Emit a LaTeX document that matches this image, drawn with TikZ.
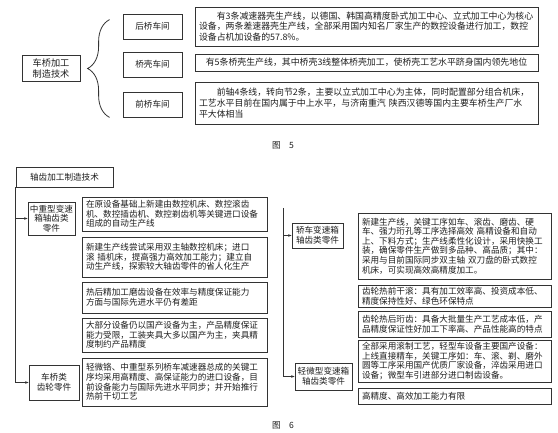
\documentclass[tikz,border=0pt]{standalone}
\usepackage{fontspec}
\setmainfont{Noto Sans CJK SC}
\usetikzlibrary{arrows.meta,positioning,calc,decorations.pathreplacing}
\definecolor{scanline}{HTML}{333333}
\definecolor{scantext}{HTML}{1E1E1E}

\begin{document}
\begin{tikzpicture}[
  x=1pt,y=-1pt,
  font=\fontsize{8.6}{9.6}\selectfont,
  text=scantext,
  box/.style={draw=scanline,line width=0.8pt,align=center,inner sep=2pt},
  wide/.style={box,align=left,inner xsep=4pt,inner ysep=1pt,text width=335pt,font=\fontsize{8.9}{10.6}\selectfont},
  notel/.style={box,align=left,inner xsep=4pt,inner ysep=1pt,text width=177pt},
  noter/.style={box,align=left,inner xsep=4pt,inner ysep=1pt,text width=185pt},
  feed/.style={draw=scanline,line width=0.7pt,-{Stealth[length=3.5pt,width=2.6pt]}}
]
\useasboundingbox (0,0) rectangle (558,433);

% figure 5
\node[box,minimum width=58pt,minimum height=26pt,font=\fontsize{9.2}{11}\selectfont] (root) at (51,68) {车桥加工\\制造技术};
\node[box,minimum width=59pt,minimum height=25pt] (hou) at (152.5,26.5) {后桥车间};
\node[box,minimum width=59pt,minimum height=25pt] (qk) at (152.5,64.5) {桥壳车间};
\node[box,minimum width=59pt,minimum height=25pt] (qian) at (152.5,104.5) {前桥车间};
\node[wide,minimum height=39pt] (houtxt) at (366.5,26.5) {\hspace*{2em}有3条减速器壳生产线，以德国、韩国高精度卧式加工中心、立式加工中心为核心\\设备，两条差速器壳生产线，全部采用国内知名厂家生产的数控设备进行加工，数控\\设备占机加设备的57.8\%。};
\node[wide,align=center,minimum height=17pt] (qktxt) at (366.5,62.5) {有5条桥壳生产线，其中桥壳3线整体桥壳加工，使桥壳工艺水平跻身国内领先地位};
\node[wide,minimum height=42pt] (qiantxt) at (366.5,103) {\hspace*{2em}前轴4条线，转向节2条，主要以立式加工中心为主体，同时配置部分组合机床，\\工艺水平目前在国内属于中上水平，与济南重汽\ 陕西汉德等国内主要车桥生产厂水\\平大体相当};
\draw[scanline,line width=0.8pt,decorate,decoration={brace,amplitude=22pt}]
  ($(qian.south west)+(-13,0)$) -- ($(hou.north west)+(-13,6)$);
\node (cap5) at (283,145) {图\quad 5};

% figure 6
\node[box,minimum width=97pt,minimum height=20pt] (title) at (64.5,177) {轴齿加工制造技术};
\node[box,minimum width=47pt,minimum height=33pt] (zhong) at (51.5,218.5) {中重型变速\\箱轴齿类\\零件};
\node[box,minimum width=50pt,minimum height=35pt] (chqiao) at (54,382.5) {车桥类\\齿轮零件};
\node[notel,minimum height=34pt] (t1) at (174.5,214) {在原设备基础上新建由数控机床、数控滚齿\\机、数控插齿机、数控剃齿机等关键进口设备\\组成的自动生产线};
\node[notel,minimum height=40pt] (t2) at (174.5,257) {新建生产线尝试采用双主轴数控机床；进口\\滚\ 插机床，提高强力高效加工能力；建立自\\动生产线，探索较大轴齿零件的省人化生产};
\node[notel,minimum height=31pt] (t3) at (174.5,297.5) {热后精加工磨齿设备在效率与精度保证能力\\方面与国际先进水平仍有差距};
\node[notel,minimum height=34pt] (t4) at (174.5,335) {大部分设备仍以国产设备为主，产品精度保证\\能力受限，工装夹具大多以国产为主，夹具精\\度制约产品精度};
\node[notel,minimum height=48pt] (t5) at (174.5,382) {轻微铬、中重型系列桥车减速器总成的关键工\\序均采用高精度、高保证能力的进口设备，目\\前设备能力与国际先进水平同步；并开始推行\\热前干切工艺};

\node[box,minimum width=51pt,minimum height=25pt] (jiaoche) at (317.5,235.5) {轿车变速箱\\轴齿类零件};
\node[box,minimum width=57pt,minimum height=27pt] (qingwei) at (323.5,376.5) {轻微型变速箱\\轴齿类零件};
\node[noter,minimum height=66pt] (t6) at (454.5,246) {新建生产线，关键工序如车、滚齿、磨齿、硬\\车、强力珩孔等工序选择高效\ 高精设备和自动\\上、下料方式；生产线柔性化设计，采用快换工\\装，确保零件生产做到多品种、高品质；其中：\\采用与目前国际同步双主轴\ 双刀盘的卧式数控\\机床，可实现高效高精度加工。};
\node[noter,minimum height=22pt] (t7) at (454.5,296) {齿轮热前干滚：具有加工效率高、投资成本低、\\精度保持性好、绿色环保特点};
\node[noter,minimum height=26pt] (t8) at (454.5,324) {齿轮热后珩齿：具备大批量生产工艺成本低，产\\品精度保证性好加工下率高、产品性能高的特点};
\node[noter,minimum height=42pt] (t9) at (454.5,361) {全部采用滚制工艺，轻型车设备主要国产设备：\\上线直接精车，关键工序如：车、滚、剃、磨外\\圆等工序采用国产优质厂家设备，淬齿采用进口\\设备；微型车引进部分进口制齿设备。};
\node[noter,minimum height=16pt] (t10) at (454.5,396) {高精度、高效加工能力有限};

\coordinate (rtop) at (283,208);
\draw[feed] (title.south west) |- (chqiao.west);
\draw[feed] (title.south west |- zhong.west) -- (zhong.west);
\draw[feed] (rtop) |- (qingwei.west);
\draw[feed] (rtop |- jiaoche.west) -- (jiaoche.west);
\node (cap6) at (283,425) {图\quad 6};
\end{tikzpicture}
\end{document}
